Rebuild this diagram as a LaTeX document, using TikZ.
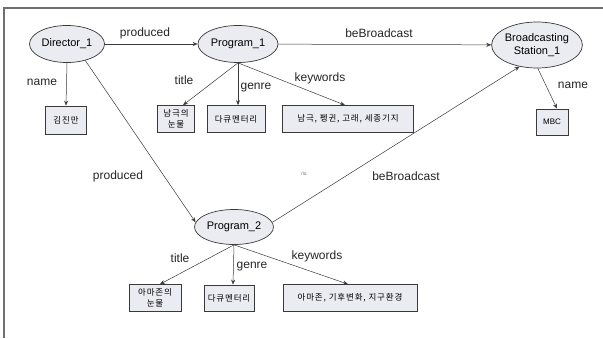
\documentclass[tikz,border=0pt]{standalone}
\usepackage{fontspec}
\setmainfont{Liberation Sans}
\newfontfamily\kr[LetterSpace=10]{Noto Sans CJK KR}
\usetikzlibrary{shapes.geometric,arrows.meta}
\definecolor{nodefill}{HTML}{EBEBF2}
\definecolor{edgecol}{HTML}{3A3A3A}
\definecolor{framecol}{HTML}{707070}
\tikzset{
  ent/.style={ellipse, draw=edgecol, fill=nodefill, line width=0.7pt, inner sep=0pt, font=\fontsize{11}{13}\selectfont, align=center},
  lit/.style={rectangle, draw=edgecol, fill=nodefill, line width=0.7pt, inner sep=0pt, font=\kr\fontsize{8.5}{11}\selectfont, align=center},
  rel/.style={-{Stealth[length=5pt,width=4pt]}, draw=edgecol, line width=0.5pt},
  lab/.style={font=\fontsize{12}{14}\selectfont, text=black!85, inner sep=0pt}
}
\begin{document}
\begin{tikzpicture}[x=1pt,y=-1pt]
\useasboundingbox (0,0) rectangle (603,338);
\fill[white] (0,0) rectangle (603,338);
\draw[framecol, line width=2pt] (3.5,338) -- (3.5,7.5) -- (603,7.5);

% entities
\node[ent, minimum width=75pt, minimum height=37pt] (d1) at (67,44) {Director\_1};
\node[ent, minimum width=80pt, minimum height=37pt] (p1) at (238,44) {Program\_1};
\node[ent, minimum width=88pt, minimum height=46pt] (b1) at (537,45) {Broadcasting\\Station\_1};
\node[ent, minimum width=79pt, minimum height=35pt] (p2) at (234,227) {Program\_2};

% literals
\node[lit, minimum width=41pt, minimum height=28pt] (n1) at (66,120) {김진만};
\node[lit, minimum width=37pt, minimum height=27pt] (t1) at (176,119) {남극의\\눈물};
\node[lit, minimum width=58pt, minimum height=27pt] (g1) at (236,119) {다큐멘터리};
\node[lit, minimum width=131pt, minimum height=27pt] (k1) at (348,119) {남극, 펭귄, 고래, 세종기지};
\node[lit, minimum width=32pt, minimum height=26pt, font=\fontsize{8}{10}\selectfont] (m1) at (552,122) {MBC};
\node[lit, minimum width=52pt, minimum height=27pt] (t2) at (155,298) {아마존의\\눈물};
\node[lit, minimum width=50pt, minimum height=26pt] (g2) at (229,298) {다큐멘터리};
\node[lit, minimum width=134pt, minimum height=27pt] (k2) at (350,298) {아마존, 기후변화, 지구환경};

% connectors
\draw[rel] (d1) -- (p1);
\draw[rel] (p1) -- (b1);
\draw[rel] (d1.south) -- (n1.north);
\draw[rel] (d1.-42) -- (p2.173);
\draw[rel] (p2.7) -- (b1.231);
\draw[rel] (b1.-88) -- ([xshift=5pt]m1.north);
\draw[rel] (p1.south) -- ([xshift=7pt]t1.north);
\draw[rel] (p1.south) -- ([xshift=2pt]g1.north);
\draw[rel] (p1.south) -- ([xshift=-3pt]k1.north);
\draw[rel] (p2.south) -- ([xshift=5pt]t2.north);
\draw[rel] (p2.south) -- ([xshift=4pt]g2.north);
\draw[rel] (p2.south) -- ([xshift=-2pt]k2.north);

% labels
\node[lab] (l1) at (145,33) {produced};
\node[lab] (l2) at (379,33) {beBroadcast};
\node[lab] (l3) at (42,82) {name};
\node[lab] (l4) at (118,176) {produced};
\node[lab] (l5) at (406,176) {beBroadcast};
\node[lab] (l6) at (184,80) {title};
\node[lab] (l7) at (256,88) {genre};
\node[lab] (l8) at (320,78) {keywords};
\node[lab] (l9) at (573,85) {name};
\node[lab] (l10) at (180,258) {title};
\node[lab] (l11) at (252,267) {genre};
\node[lab] (l12) at (317,256) {keywords};
\node[font=\fontsize{5}{6}\selectfont, text=black!50, inner sep=0pt] (l13) at (304,174) {rla};
\end{tikzpicture}
\end{document}
